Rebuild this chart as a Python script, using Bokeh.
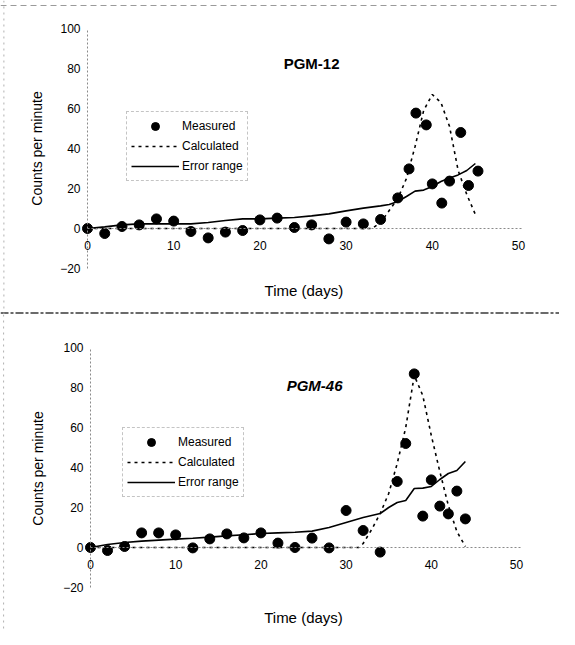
import math
from bokeh.plotting import figure
from bokeh.models import Legend, LegendItem, Label, FixedTicker, Range1d, Span
from bokeh.layouts import column
from bokeh.embed import file_html
from bokeh.resources import INLINE

FONT = "Liberation Sans"

x_ticks = [0, 10, 20, 30, 40, 50]
y_ticks = [-20, 0, 20, 40, 60, 80, 100]

# ---- PGM-12 ----
pgm12_meas_days = [0, 2, 4, 6, 8, 10, 12, 14, 16, 18, 20, 22, 24, 26, 28, 30, 32, 34,
                   36, 37.3, 38.1, 39.3, 40, 41.1, 42, 43.3, 44.2, 45.3]
pgm12_meas_cpm = [0, -2.5, 1, 1.8, 4.8, 3.7, -1.5, -4.7, -1.8, -1, 4.3, 5.2, 0.5, 1.8, -5.2, 3.2, 2.3, 4.5,
                  15.3, 29.8, 57.7, 51.8, 22.3, 12.7, 23.7, 48, 21.5, 28.7]
pgm12_calc_days = [0, 33, 34, 35, 36, 37, 38, 39, 40, 41, 42, 43, 44, 45]
pgm12_calc_cpm = [0, 0, 3, 9, 15, 25, 41, 59, 67, 63, 51, 29, 17, 7]
pgm12_err_days = [0, 2, 4, 6, 8, 10, 12, 14, 16, 18, 20, 22, 24, 26, 28, 30, 32, 34,
                  35, 36, 37, 38, 39, 40, 41, 42, 43, 44, 45]
pgm12_err_cpm = [0, 0.8, 1.8, 2.3, 2.3, 2.3, 2.3, 3, 4, 4.8, 4.8, 5.2, 5.5, 6.3, 7.3, 8.8, 10.2, 11.3,
                 12, 13.5, 16, 18.7, 19.2, 21, 23.5, 25.3, 26.8, 29, 32.5]

# ---- PGM-46 ----
pgm46_meas_days = [0, 2, 4, 6, 8, 10, 12, 14, 16, 18, 20, 22, 24, 26, 28, 30, 32, 34,
                   36, 37, 38, 39, 40, 41, 42, 43, 44]
pgm46_meas_cpm = [0, -1.5, 0.5, 7.3, 7.3, 6.3, -0.2, 4.3, 6.8, 4.8, 7.3, 2.2, 0, 4.7, -0.2, 18.5, 8.5, -2.3,
                  33, 52, 86.8, 15.7, 33.8, 20.7, 16.8, 28.2, 14.3]
pgm46_calc_days = [0, 31.5, 32, 33, 34, 35, 36, 37, 38, 39, 40, 41, 42, 43, 44]
pgm46_calc_cpm = [0, 0, 2, 9, 17, 27, 42, 60, 86, 76, 56, 38, 21, 8, 0.5]
pgm46_err_days = [0, 2, 4, 6, 8, 10, 12, 14, 16, 18, 20, 22, 24, 26, 28, 30, 32, 34,
                  35, 36, 37, 38, 39, 40, 41, 42, 43, 44]
pgm46_err_cpm = [0, 1.5, 2.5, 3.2, 3.7, 4.2, 4.6, 5.2, 5.8, 6.4, 7, 7.3, 7.6, 8.2, 10, 12.5, 15, 17,
                 20, 22.5, 23.5, 29.5, 29.7, 30.5, 34, 37, 38.5, 43]

titles = ["PGM-12", "PGM-46"]
x_label = "Time (days)"
y_label = "Counts per minute"
legend_labels = ["Measured", "Calculated", "Error range"]


def make_panel(height, xr, yr, title, title_style, title_pos, xlab_pos, ylab_pos,
               meas_x, meas_y, calc_x, calc_y, err_x, err_y, legend_loc, spans):
    p = figure(width=559, height=height, x_range=Range1d(*xr), y_range=Range1d(*yr),
               output_backend="svg", toolbar_location=None,
               min_border_left=0, min_border_right=0, min_border_top=0, min_border_bottom=0)
    p.grid.visible = False
    p.outline_line_color = None
    p.background_fill_color = "white"
    p.border_fill_color = "white"

    for ax, ticks, bounds in ((p.xaxis, x_ticks, (0, 50.5)), (p.yaxis, y_ticks, (-20, 100))):
        ax.fixed_location = 0
        ax.ticker = FixedTicker(ticks=ticks)
        ax.bounds = bounds
        ax.axis_line_color = "#8a8a8a"
        ax.axis_line_dash = "2 2"
        ax.axis_line_width = 1
        ax.major_tick_line_color = None
        ax.minor_tick_line_color = None
        ax.major_tick_out = 0
        ax.major_tick_in = 0
        ax.major_label_text_font = FONT
        ax.major_label_text_font_size = "12px"
        ax.major_label_text_color = "black"
    p.xaxis.major_label_standoff = 12
    p.yaxis.major_label_standoff = 7

    for loc, dim, color, width, dash in spans:
        p.add_layout(Span(location=loc, dimension=dim, line_color=color, line_width=width,
                          line_dash=dash))

    r_calc = p.line(calc_x, calc_y, line_color="black", line_width=1.6, line_dash="3 4")
    r_err = p.line(err_x, err_y, line_color="black", line_width=1.6)
    r_meas = p.scatter(meas_x, meas_y, size=10, marker="circle", fill_color="black", line_color="black")

    legend = Legend(items=[LegendItem(label=legend_labels[0], renderers=[r_meas]),
                           LegendItem(label=legend_labels[1], renderers=[r_calc]),
                           LegendItem(label=legend_labels[2], renderers=[r_err])],
                    location=legend_loc, padding=4, spacing=0, margin=0,
                    glyph_width=48, glyph_height=20, label_height=20, label_standoff=3,
                    label_text_font=FONT, label_text_font_size="12px", label_text_color="black",
                    border_line_color="#8a8a8a", border_line_dash="3 2", border_line_width=1,
                    background_fill_color="white", background_fill_alpha=1.0)
    p.add_layout(legend, "center")

    p.add_layout(Label(x=title_pos[0], y=title_pos[1], text=title, text_font=FONT,
                       text_font_size="15px", text_font_style=title_style,
                       text_align="center", text_baseline="middle", text_color="black"))
    p.add_layout(Label(x=xlab_pos[0], y=xlab_pos[1], text=x_label, text_font=FONT,
                       text_font_size="15px", text_align="center", text_baseline="middle",
                       text_color="black"))
    p.add_layout(Label(x=ylab_pos[0], y=ylab_pos[1], text=y_label, text_font=FONT,
                       text_font_size="14px", text_align="center", text_baseline="middle",
                       angle=math.pi / 2, text_color="black"))
    return p


# frame covers the whole figure: page px -> data via the figure's own ranges
p1 = make_panel(314, (-87 / 8.62, (559 - 87) / 8.62), ((228 - 314) / 2, 228 / 2),
                titles[0], "bold", (26, 82.5), (25.1, -31), (-5.9, 40),
                pgm12_meas_days, pgm12_meas_cpm, pgm12_calc_days, pgm12_calc_cpm,
                pgm12_err_days, pgm12_err_cpm, (126, 133),
                [(-42.3, "width", "#3a3a3a", 1.5, "8 2 3 2"),
                 (111.5, "width", "#9a9a9a", 1, "6 4"),
                 (-9.7, "height", "#b0b0b0", 1, "2 4")])
p2 = make_panel(315, (-90 / 8.52, (559 - 90) / 8.52), ((547 - 629) / 2, (547 - 314) / 2),
                titles[1], "bold italic", (26.3, 81), (25, -35), (-6.2, 39.5),
                pgm46_meas_days, pgm46_meas_cpm, pgm46_calc_days, pgm46_calc_cpm,
                pgm46_err_days, pgm46_err_cpm, (122, 132),
                [(-10.2, "height", "#b0b0b0", 1, "2 4")])

layout = column(p1, p2, spacing=0)
open("out.html", "w").write(file_html(layout, INLINE))
